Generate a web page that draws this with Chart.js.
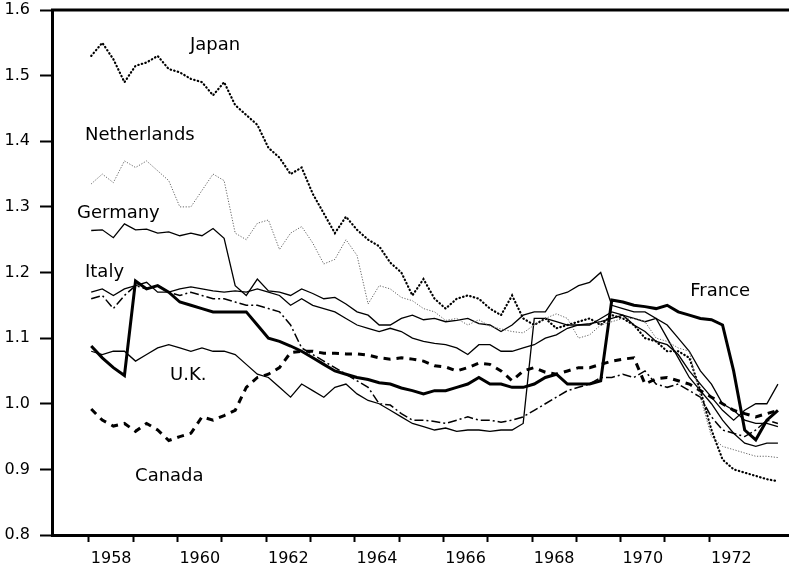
<!DOCTYPE html>
<html>
<head>
<meta charset="utf-8">
<script src="https://cdn.jsdelivr.net/npm/chart.js@4/dist/chart.umd.min.js"></script>
<style>
  html, body { margin: 0; padding: 0; background: #fff; }
  #wrap { width: 789px; height: 578px; }
</style>
</head>
<body>
<div id="wrap"><canvas id="lineChart" width="789" height="578"></canvas></div>
<script>
// Quarterly time points (decimal years)
const years = [
  1958.05, 1958.3, 1958.55, 1958.8, 1959.05, 1959.3, 1959.55, 1959.8,
  1960.05, 1960.3, 1960.55, 1960.8, 1961.05, 1961.3, 1961.55, 1961.8,
  1962.05, 1962.3, 1962.55, 1962.8, 1963.05, 1963.3, 1963.55, 1963.8,
  1964.05, 1964.3, 1964.55, 1964.8, 1965.05, 1965.3, 1965.55, 1965.8,
  1966.05, 1966.3, 1966.55, 1966.8, 1967.05, 1967.3, 1967.55, 1967.8,
  1968.05, 1968.3, 1968.55, 1968.8, 1969.05, 1969.3, 1969.55, 1969.8,
  1970.05, 1970.3, 1970.55, 1970.8, 1971.05, 1971.3, 1971.55, 1971.8,
  1972.05, 1972.3, 1972.55, 1972.8, 1973.05, 1973.3, 1973.55
];

const japan = [
  1.53, 1.55, 1.525, 1.49, 1.515, 1.52, 1.53, 1.51,
  1.505, 1.495, 1.49, 1.47, 1.49, 1.455, 1.44, 1.425,
  1.39, 1.375, 1.35, 1.36, 1.32, 1.29, 1.26, 1.285,
  1.265, 1.25, 1.24, 1.215, 1.2, 1.165, 1.19, 1.16,
  1.145, 1.16, 1.165, 1.16, 1.145, 1.135, 1.165, 1.13,
  1.12, 1.13, 1.115, 1.12, 1.125, 1.13, 1.12, 1.135,
  1.13, 1.12, 1.1, 1.095, 1.08, 1.08, 1.07, 1.02,
  0.96, 0.915, 0.9, 0.895, 0.89, 0.885, 0.882
];

const netherlands = [
  1.335, 1.35, 1.337, 1.37, 1.36, 1.37, 1.355, 1.34,
  1.30, 1.30, 1.325, 1.35, 1.34, 1.26, 1.25, 1.275,
  1.28, 1.235, 1.26, 1.27, 1.245, 1.213, 1.22, 1.25,
  1.226, 1.152, 1.18, 1.175, 1.162, 1.157, 1.145, 1.14,
  1.127, 1.13, 1.12, 1.128, 1.118, 1.114, 1.11, 1.108,
  1.12, 1.13, 1.137, 1.13, 1.1, 1.105, 1.12, 1.125,
  1.13, 1.13, 1.125, 1.1, 1.095, 1.085, 1.08, 1.01,
  0.95, 0.935, 0.93, 0.925, 0.92, 0.92, 0.918
];

const germany = [
  1.264, 1.265, 1.253, 1.274, 1.265, 1.266, 1.26, 1.262,
  1.256, 1.26, 1.256, 1.267, 1.252, 1.18, 1.165, 1.19,
  1.172, 1.17, 1.165, 1.175, 1.168, 1.16, 1.162, 1.152,
  1.14, 1.135, 1.12, 1.12, 1.13, 1.135, 1.128, 1.13,
  1.125, 1.127, 1.13, 1.122, 1.12, 1.11, 1.12, 1.135,
  1.14, 1.14, 1.165, 1.17, 1.18, 1.185, 1.2, 1.15,
  1.145, 1.14, 1.14, 1.13, 1.1, 1.07, 1.04, 1.02,
  1.0, 0.975, 0.955, 0.94, 0.935, 0.94, 0.94
];

const italy = [
  1.16, 1.165, 1.145, 1.165, 1.18, 1.175, 1.18, 1.17,
  1.165, 1.17, 1.165, 1.16, 1.16, 1.155, 1.15, 1.15,
  1.145, 1.14, 1.12, 1.085, 1.075, 1.065, 1.055, 1.045,
  1.035, 1.025, 1.0, 0.998, 0.985, 0.975, 0.975, 0.973,
  0.97, 0.975, 0.98, 0.975, 0.975, 0.972, 0.975, 0.98,
  0.99, 1.0, 1.01, 1.02, 1.025, 1.03, 1.04, 1.04,
  1.045, 1.04, 1.05, 1.03, 1.025, 1.03, 1.02, 1.01,
  0.98, 0.96, 0.955, 0.95, 0.96, 0.975, 0.97
];

const france = [
  1.088, 1.07, 1.055, 1.043, 1.187, 1.175, 1.18, 1.17,
  1.155, 1.15, 1.145, 1.14, 1.14, 1.14, 1.14, 1.12,
  1.1, 1.095, 1.088, 1.08, 1.07, 1.06, 1.05, 1.045,
  1.04, 1.037, 1.032, 1.03, 1.024, 1.02, 1.015, 1.02,
  1.02, 1.025, 1.03, 1.04, 1.03, 1.03, 1.025, 1.025,
  1.03, 1.04, 1.045, 1.03, 1.03, 1.03, 1.035, 1.158,
  1.155, 1.15, 1.148, 1.145, 1.15, 1.14, 1.135, 1.13,
  1.128, 1.12, 1.05, 0.96, 0.945, 0.975, 0.99
];

const uk = [
  1.08, 1.075, 1.08, 1.08, 1.065, 1.075, 1.085, 1.09,
  1.085, 1.08, 1.085, 1.08, 1.08, 1.075, 1.06, 1.045,
  1.04, 1.025, 1.01, 1.03, 1.02, 1.01, 1.025, 1.03,
  1.015, 1.005, 1.0, 0.99, 0.98, 0.97, 0.965, 0.96,
  0.963, 0.958, 0.96, 0.96, 0.958, 0.96, 0.96, 0.97,
  1.13, 1.13, 1.125, 1.12, 1.12, 1.12, 1.13, 1.14,
  1.135, 1.12, 1.11, 1.095, 1.09, 1.075, 1.05, 1.03,
  1.01, 0.99, 0.975, 0.99, 1.0, 1.0, 1.03
];

const canada = [
  0.992, 0.975, 0.966, 0.97, 0.958, 0.97, 0.96, 0.944,
  0.95, 0.955, 0.98, 0.975, 0.982, 0.99, 1.025, 1.04,
  1.045, 1.055, 1.078, 1.08, 1.08, 1.077, 1.077, 1.076,
  1.076, 1.074, 1.07, 1.068, 1.07, 1.068, 1.065, 1.058,
  1.056, 1.05, 1.055, 1.062, 1.06, 1.05, 1.035, 1.05,
  1.055, 1.048, 1.045, 1.05, 1.055, 1.055, 1.06, 1.065,
  1.068, 1.07, 1.03, 1.038, 1.04, 1.035, 1.03, 1.02,
  1.01, 1.0, 0.99, 0.985, 0.98, 0.985, 0.99
];

// unlabelled thin line in the middle band
const other = [
  1.17, 1.175, 1.165, 1.175, 1.18, 1.185, 1.17, 1.17,
  1.175, 1.178, 1.175, 1.172, 1.17, 1.172, 1.17, 1.175,
  1.17, 1.165, 1.15, 1.16, 1.15, 1.145, 1.14, 1.13,
  1.12, 1.115, 1.11, 1.115, 1.11, 1.1, 1.095, 1.092,
  1.09, 1.085, 1.075, 1.09, 1.09, 1.08, 1.08, 1.085,
  1.09, 1.1, 1.105, 1.115, 1.12, 1.122, 1.125, 1.13,
  1.135, 1.13, 1.125, 1.13, 1.12, 1.1, 1.08, 1.05,
  1.03, 1.0, 0.99, 0.975, 0.97, 0.97, 0.965
];

const yTicks = [0.8, 0.9, 1.0, 1.1, 1.2, 1.3, 1.4, 1.5, 1.6];
const yearTicks = [1958, 1959, 1960, 1961, 1962, 1963, 1964, 1965, 1966, 1967, 1968, 1969, 1970, 1971, 1972];
const yearLabels = [1958, 1960, 1962, 1964, 1966, 1968, 1970, 1972];

// country names written inside the plot: [text, year, value]
const countryNames = [
  ['Japan', 1960.28, 1.546],
  ['Netherlands', 1957.91, 1.409],
  ['Germany', 1957.73, 1.29],
  ['Italy', 1957.91, 1.201],
  ['France', 1971.57, 1.172],
  ['U.K.', 1959.83, 1.043],
  ['Canada', 1959.04, 0.89]
];

const FONT = 'DejaVu Sans';

function series(vals) {
  return years.map((x, i) => ({ x: x, y: vals[i] }));
}

document.addEventListener('DOMContentLoaded', function() {
  const canvas = document.getElementById('lineChart');
  const ctx = canvas.getContext('2d');

  // white background, top frame line and country names
  const extras = {
    id: 'extras',
    beforeDraw(chart) {
      const c = chart.ctx;
      c.save();
      c.fillStyle = '#fff';
      c.fillRect(0, 0, chart.width, chart.height);
      c.restore();
    },
    afterDraw(chart) {
      const c = chart.ctx;
      const a = chart.chartArea;
      const sx = chart.scales.x, sy = chart.scales.y;
      c.save();
      c.strokeStyle = '#000';
      c.lineWidth = 3;
      c.beginPath();
      c.moveTo(a.left - 1, a.top);
      c.lineTo(chart.width, a.top);
      c.stroke();
      c.fillStyle = '#000';
      c.font = '18px "' + FONT + '"';
      c.textAlign = 'left';
      c.textBaseline = 'middle';
      countryNames.forEach(n => {
        c.fillText(n[0], sx.getPixelForValue(n[1]), sy.getPixelForValue(n[2]));
      });
      c.restore();
    }
  };

  const base = { fill: false, pointRadius: 0, tension: 0, borderColor: '#000' };

  new Chart(ctx, {
    type: 'line',
    data: {
      datasets: [
        Object.assign({ label: 'Netherlands', data: series(netherlands), borderWidth: 1, borderDash: [1.2, 1.6] }, base, { borderColor: '#666' }),
        Object.assign({ label: 'Japan', data: series(japan), borderWidth: 2.2, borderDash: [0.5, 3.2], borderCapStyle: 'round' }, base),
        Object.assign({ label: 'Germany', data: series(germany), borderWidth: 1.3 }, base),
        Object.assign({ label: '', data: series(other), borderWidth: 1.3 }, base),
        Object.assign({ label: 'Italy', data: series(italy), borderWidth: 1.5, borderDash: [9, 3, 2, 3] }, base),
        Object.assign({ label: 'U.K.', data: series(uk), borderWidth: 1.3 }, base),
        Object.assign({ label: 'Canada', data: series(canada), borderWidth: 3, borderDash: [7, 6] }, base),
        Object.assign({ label: 'France', data: series(france), borderWidth: 3 }, base)
      ]
    },
    options: {
      responsive: false,
      animation: false,
      layout: { autoPadding: false, padding: { top: 10, right: 0, left: 0, bottom: 0 } },
      plugins: { legend: { display: false }, tooltip: { enabled: false } },
      scales: {
        x: {
          type: 'linear',
          min: 1957.165,
          max: 1973.8,
          afterBuildTicks(scale) {
            const t = yearTicks.map(v => ({ value: v }));
            yearLabels.forEach(v => t.push({ value: v + 0.5 }));
            t.sort((p, q) => p.value - q.value);
            scale.ticks = t;
          },
          afterFit(scale) {
            scale.height = 43;
            scale.paddingLeft = 0;
            scale.paddingRight = 0;
          },
          border: { display: true, color: '#000', width: 3 },
          grid: {
            drawOnChartArea: false,
            tickLength: 7,
            tickWidth: 2,
            tickColor: c => (c.tick && c.tick.value % 1 === 0) ? '#000' : 'rgba(0,0,0,0)'
          },
          ticks: {
            autoSkip: false,
            maxRotation: 0,
            padding: 7,
            color: '#000',
            font: { family: FONT, size: 16 },
            callback: v => (v % 1 === 0.5) ? String(Math.floor(v)) : ''
          }
        },
        y: {
          min: 0.8,
          max: 1.6,
          afterBuildTicks(scale) {
            scale.ticks = yTicks.map(v => ({ value: v }));
          },
          afterFit(scale) {
            scale.width = 52;
            scale.paddingTop = 0;
            scale.paddingBottom = 0;
          },
          border: { display: true, color: '#000', width: 3 },
          grid: { drawOnChartArea: false, tickLength: 12, tickWidth: 2, tickColor: '#000' },
          ticks: {
            padding: 10,
            color: '#000',
            font: { family: FONT, size: 16 },
            callback: v => Number(v).toFixed(1)
          }
        }
      }
    },
    plugins: [extras]
  });
});
</script>
</body>
</html>
